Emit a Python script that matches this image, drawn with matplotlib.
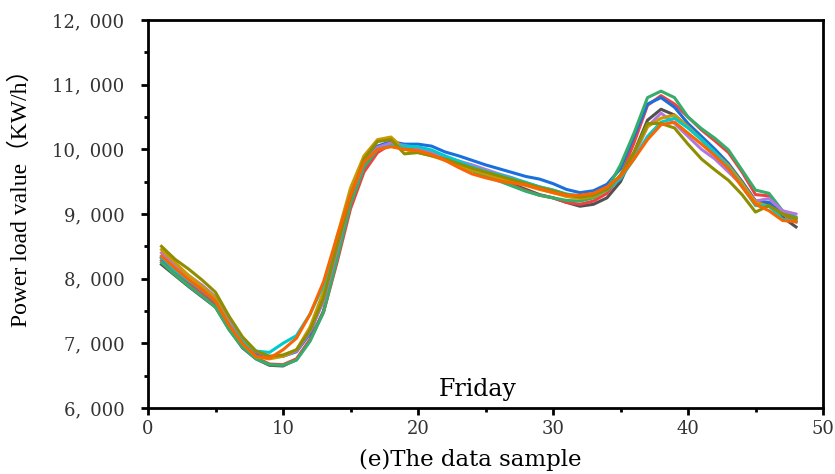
import matplotlib
matplotlib.use("Agg")
import matplotlib.pyplot as plt
from matplotlib.ticker import MultipleLocator, FuncFormatter

# Punti orari (48 campioni al giorno)
x = list(range(1, 49))

gray = [8220, 8050, 7880, 7720, 7560, 7220, 6930, 6760, 6660, 6650, 6750, 7050, 7500, 8300, 9150, 9700,
        9980, 10080, 10030, 9980, 9920, 9840, 9760, 9680, 9600, 9530, 9460, 9380, 9300, 9250, 9180, 9120,
        9150, 9250, 9500, 9950, 10450, 10620, 10530, 10350, 10150, 9950, 9750, 9500, 9200, 9150, 8950, 8800]
red = [8280, 8090, 7920, 7760, 7590, 7250, 6960, 6780, 6680, 6670, 6760, 7060, 7480, 8250, 9080, 9650,
       9950, 10080, 10040, 9990, 9930, 9850, 9760, 9680, 9600, 9520, 9440, 9360, 9290, 9250, 9180, 9150,
       9200, 9320, 9580, 10100, 10680, 10830, 10700, 10500, 10300, 10130, 9950, 9650, 9300, 9280, 9000, 8880]
blue = [8320, 8130, 7970, 7820, 7640, 7280, 7010, 6830, 6780, 6800, 6870, 7150, 7700, 8500, 9350, 9850,
        10050, 10120, 10080, 10080, 10050, 9960, 9900, 9830, 9760, 9700, 9640, 9580, 9540, 9470, 9380, 9330,
        9360, 9460, 9700, 10200, 10700, 10800, 10650, 10400, 10200, 10000, 9780, 9500, 9200, 9180, 9000, 8920]
green = [8250, 8060, 7890, 7730, 7560, 7210, 6940, 6760, 6670, 6660, 6740, 7030, 7480, 8300, 9150, 9720,
         10000, 10070, 10040, 9990, 9930, 9850, 9760, 9670, 9580, 9510, 9430, 9350, 9290, 9250, 9210, 9200,
         9250, 9380, 9760, 10250, 10800, 10900, 10800, 10500, 10320, 10170, 9990, 9680, 9370, 9320, 9050, 8950]
purple = [8400, 8200, 8050, 7900, 7720, 7350, 7050, 6870, 6800, 6800, 6880, 7180, 7650, 8450, 9250, 9800,
          10030, 10100, 10060, 10020, 9960, 9880, 9820, 9760, 9690, 9620, 9560, 9480, 9420, 9370, 9300, 9260,
          9290, 9380, 9550, 9900, 10350, 10560, 10400, 10200, 10000, 9850, 9650, 9450, 9200, 9240, 9050, 9000]
gold = [8450, 8250, 8050, 7880, 7700, 7300, 7000, 6790, 6760, 6800, 6900, 7250, 7800, 8650, 9400, 9900,
        10150, 10190, 10000, 9950, 9900, 9830, 9750, 9680, 9620, 9560, 9500, 9440, 9380, 9330, 9270, 9240,
        9270, 9370, 9600, 9950, 10350, 10480, 10530, 10350, 10150, 9950, 9750, 9480, 9180, 9120, 9000, 8920]
cyan = [8330, 8130, 7970, 7830, 7650, 7290, 7030, 6880, 6860, 7000, 7120, 7450, 7900, 8600, 9300, 9800,
        10000, 10050, 10050, 10040, 9990, 9900, 9820, 9730, 9660, 9610, 9550, 9490, 9420, 9370, 9310, 9280,
        9290, 9370, 9550, 9850, 10200, 10420, 10480, 10330, 10150, 9950, 9720, 9430, 9130, 9120, 8920, 8880]
olive = [8500, 8300, 8150, 7980, 7790, 7420, 7100, 6880, 6800, 6820, 6900, 7200, 7700, 8500, 9250, 9850,
         10120, 10150, 9930, 9950, 9900, 9850, 9780, 9710, 9650, 9590, 9530, 9470, 9410, 9360, 9300, 9260,
         9290, 9380, 9600, 9950, 10400, 10400, 10330, 10080, 9850, 9680, 9520, 9300, 9030, 9130, 9000, 8930]
orange = [8350, 8160, 7990, 7830, 7650, 7280, 7000, 6800, 6770, 6900, 7080, 7450, 7950, 8650, 9300, 9800,
          10000, 10040, 10000, 9980, 9920, 9830, 9720, 9620, 9560, 9510, 9480, 9450, 9390, 9330, 9290, 9290,
          9320, 9420, 9580, 9850, 10150, 10380, 10420, 10250, 10080, 9900, 9700, 9420, 9150, 9050, 8900, 8880]

series = [gray, red, blue, green, purple, gold, cyan, olive, orange]
colors = ["#515151", "#F14040", "#1A6FDF", "#37AD6B", "#B177DE", "#CC9900", "#00CBCC", "#8E8E00", "#FB6501"]

fig = plt.figure(figsize=(8.35, 4.74), dpi=100)
ax = fig.add_axes([148 / 835, 1 - 408 / 474, 675 / 835, 388 / 474])

for y, c in zip(series, colors):
    ax.plot(x, y, color=c, linewidth=2.2)

ax.set_xlim(0, 50)
ax.set_ylim(6000, 12000)
ax.xaxis.set_major_locator(MultipleLocator(10))
ax.xaxis.set_minor_locator(MultipleLocator(5))
ax.yaxis.set_major_locator(MultipleLocator(1000))
ax.yaxis.set_minor_locator(MultipleLocator(500))
ax.yaxis.set_major_formatter(FuncFormatter(lambda v, p: f"{v:,.0f}".replace(",", ",\u2002")))

for s in ax.spines.values():
    s.set_linewidth(2)
ax.tick_params(which="major", direction="out", length=5, width=2, labelsize=13)
ax.tick_params(which="minor", direction="out", length=3, width=2)
ax.tick_params(axis="x", which="major", pad=4)
ax.tick_params(axis="y", which="major", pad=12)
for lab in ax.get_xticklabels() + ax.get_yticklabels():
    lab.set_fontfamily("DejaVu Serif")
    lab.set_color("#333333")

ax.set_xlabel("(e)The data sample", fontsize=16.5, family="DejaVu Serif")
ax.xaxis.set_label_coords(0.478, -0.105)
ax.set_ylabel("Power load value（KW/h）", fontsize=17, family=["Liberation Serif", "Noto Sans CJK SC"])
ax.yaxis.set_label_coords(-0.172, 0.555)
ax.text(24.4, 6110, "Friday", fontsize=17, family="DejaVu Serif", ha="center", va="bottom")

fig.savefig("out.png", dpi=100)
